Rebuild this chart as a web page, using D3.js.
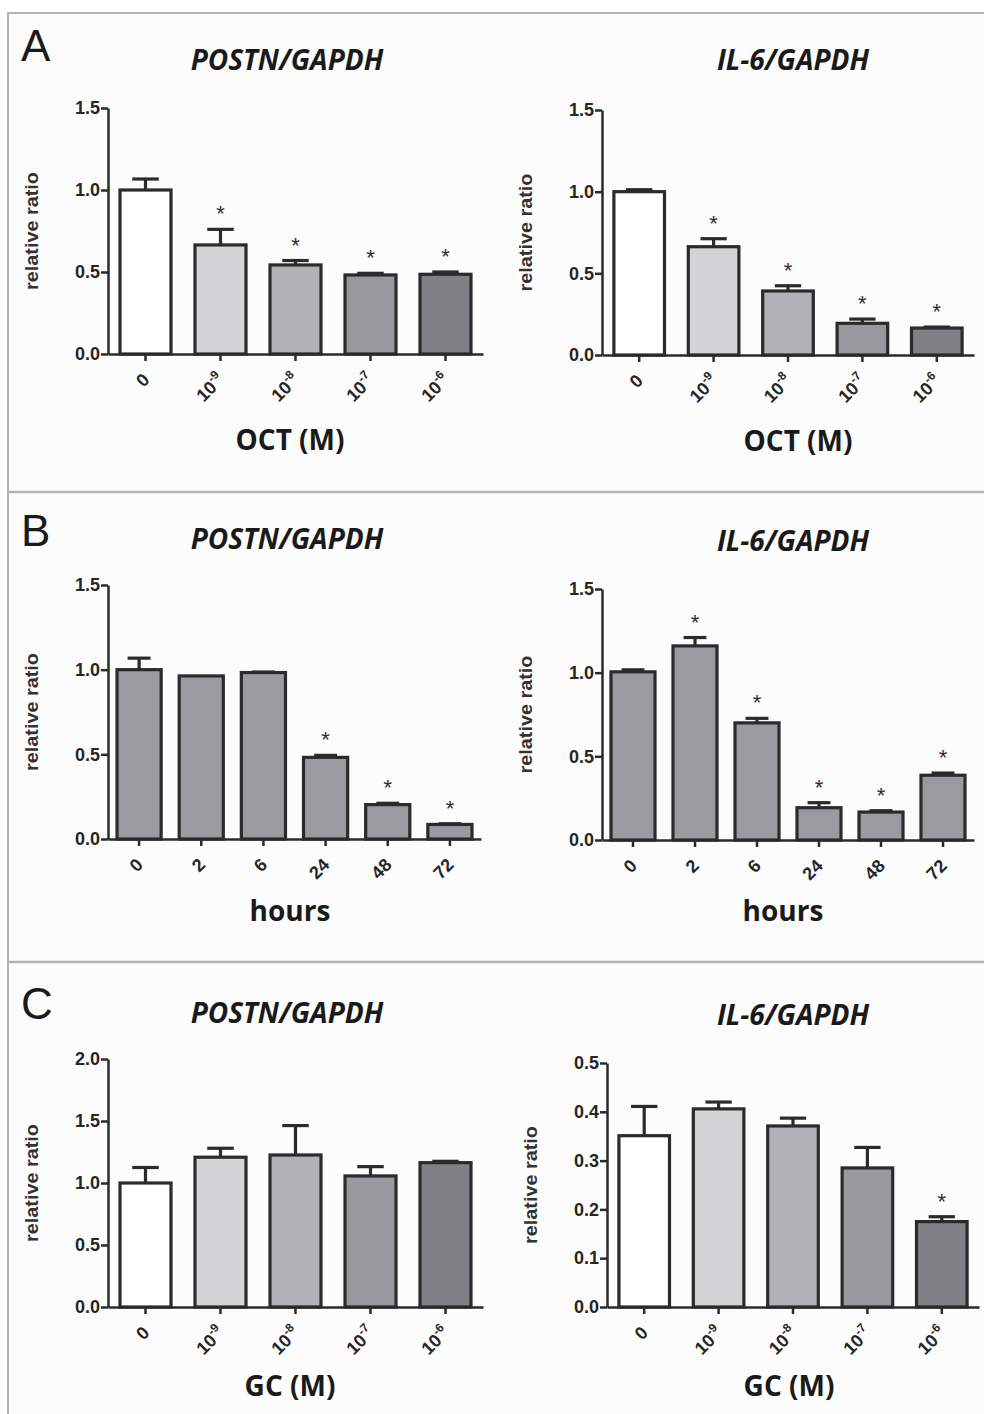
<!DOCTYPE html>
<html>
  <head>
    <meta charset="utf-8">
    <title>POSTN and IL-6 relative expression</title>
    <style>
      body {
        margin: 0;
        background: #fff;
      }

      svg {
        display: block;
      }

      .axis path,
      .axis line {
        fill: none;
        stroke: #2b2b2b;
        stroke-width: 2.5px;
      }

      .axis text,
      .xlab {
        font-family: "Liberation Sans", Arial, sans-serif;
        font-weight: bold;
        font-size: 18px;
        fill: #262626;
      }

      .bar,
      .err {
        stroke: #2b2b2b;
        stroke-width: 3.2px;
      }

      .star {
        font-family: "Liberation Sans", Arial, sans-serif;
        font-size: 22px;
        fill: #2e2e2e;
        text-anchor: middle;
      }

      .title {
        font-family: "Open Sans", sans-serif;
        font-weight: bold;
        font-style: italic;
        font-size: 28px;
        fill: #1a1a1a;
        text-anchor: middle;
      }

      .xtitle {
        font-family: "Open Sans", sans-serif;
        font-weight: bold;
        font-size: 28px;
        fill: #1a1a1a;
        text-anchor: middle;
      }

      .ytitle {
        font-family: "Liberation Sans", Arial, sans-serif;
        font-weight: bold;
        font-size: 18px;
        fill: #333;
        text-anchor: middle;
      }

      .letter {
        font-family: "Liberation Sans", Arial, sans-serif;
        font-size: 44px;
        fill: #1a1a1a;
      }
    </style>
  </head>

  <body>
    <div id="chart"></div>

    <script src="https://d3js.org/d3.v7.min.js"></script>
    <script>
      // Category labels ("^" marks a superscript exponent)
      var doseLabels = ["0", "10^-9", "10^-8", "10^-7", "10^-6"];
      var hourLabels = ["0", "2", "6", "24", "48", "72"];

      // y tick values
      var ticks15 = [0, 0.5, 1.0, 1.5];
      var ticks20 = [0, 0.5, 1.0, 1.5, 2.0];
      var ticks05 = [0, 0.1, 0.2, 0.3, 0.4, 0.5];

      // A: OCT dose
      var octPostn = [1.00, 0.665, 0.543, 0.482, 0.486];
      var octPostnErr = [0.067, 0.095, 0.027, 0.010, 0.014];
      var octPostnSig = [false, true, true, true, true];
      var octIl6 = [1.00, 0.663, 0.392, 0.194, 0.165];
      var octIl6Err = [0.012, 0.049, 0.032, 0.026, 0.006];
      var octIl6Sig = [false, true, true, true, true];

      // B: time course
      var hrsPostn = [1.00, 0.963, 0.983, 0.482, 0.203, 0.086];
      var hrsPostnErr = [0.068, 0, 0.003, 0.012, 0.008, 0.004];
      var hrsPostnSig = [false, false, false, true, true, true];
      var hrsIl6 = [1.005, 1.16, 0.70, 0.193, 0.167, 0.387];
      var hrsIl6Err = [0.012, 0.05, 0.027, 0.03, 0.008, 0.013];
      var hrsIl6Sig = [false, true, true, true, true, true];

      // C: GC dose
      var gcPostn = [1.00, 1.208, 1.226, 1.057, 1.164];
      var gcPostnErr = [0.125, 0.072, 0.237, 0.075, 0.011];
      var gcPostnSig = [false, false, false, false, false];
      var gcIl6 = [0.351, 0.406, 0.371, 0.285, 0.175];
      var gcIl6Err = [0.060, 0.014, 0.016, 0.042, 0.010];
      var gcIl6Sig = [false, false, false, false, true];

      // bar fills
      var doseFills = ["#ffffff", "#d3d4d6", "#b1b2b5", "#98999c", "#808184"];
      var hourFill = "#9a9b9e";

      var charts = [
        {title: "POSTN/GAPDH", xTitle: "OCT (M)", cats: doseLabels, vals: octPostn, errs: octPostnErr, sig: octPostnSig,
         yMax: 1.5, ticks: ticks15, left: 108, right: 483, top: 108, bottom: 354, titleX: 287, titleY: 70, xTitleX: 290, xTitleY: 450},
        {title: "IL-6/GAPDH", xTitle: "OCT (M)", cats: doseLabels, vals: octIl6, errs: octIl6Err, sig: octIl6Sig,
         yMax: 1.5, ticks: ticks15, left: 602, right: 974, top: 110, bottom: 355, titleX: 793, titleY: 70, xTitleX: 798, xTitleY: 451},
        {title: "POSTN/GAPDH", xTitle: "hours", cats: hourLabels, vals: hrsPostn, errs: hrsPostnErr, sig: hrsPostnSig,
         yMax: 1.5, ticks: ticks15, left: 108, right: 481, top: 585, bottom: 839, titleX: 287, titleY: 549, xTitleX: 290, xTitleY: 921},
        {title: "IL-6/GAPDH", xTitle: "hours", cats: hourLabels, vals: hrsIl6, errs: hrsIl6Err, sig: hrsIl6Sig,
         yMax: 1.5, ticks: ticks15, left: 602, right: 974, top: 589, bottom: 840, titleX: 793, titleY: 551, xTitleX: 783, xTitleY: 921},
        {title: "POSTN/GAPDH", xTitle: "GC (M)", cats: doseLabels, vals: gcPostn, errs: gcPostnErr, sig: gcPostnSig,
         yMax: 2.0, ticks: ticks20, left: 108, right: 483, top: 1059, bottom: 1307, titleX: 287, titleY: 1023, xTitleX: 290, xTitleY: 1396},
        {title: "IL-6/GAPDH", xTitle: "GC (M)", cats: doseLabels, vals: gcIl6, errs: gcIl6Err, sig: gcIl6Sig,
         yMax: 0.5, ticks: ticks05, left: 607, right: 979, top: 1063, bottom: 1307, titleX: 793, titleY: 1025, xTitleX: 789, xTitleY: 1396}
      ];

      var W = 984, H = 1414;

      var svg = d3.select("#chart").append("svg")
        .attr("width", W)
        .attr("height", H);

      // Panel frame and separators
      svg.append("rect")
        .attr("x", 8).attr("y", 13)
        .attr("width", W + 10).attr("height", H)
        .attr("fill", "#fcfcfc")
        .attr("stroke", "#b3b3b3")
        .attr("stroke-width", 2);

      [492, 962].forEach(function(y) {
        svg.append("line")
          .attr("x1", 8).attr("x2", W)
          .attr("y1", y).attr("y2", y)
          .attr("stroke", "#b3b3b3")
          .attr("stroke-width", 2.5);
      });

      [["A", 61], ["B", 546], ["C", 1019]].forEach(function(l) {
        svg.append("text")
          .attr("class", "letter")
          .attr("x", 21).attr("y", l[1])
          .text(l[0]);
      });

      charts.forEach(function(c) {
        var g = svg.append("g");
        var n = c.cats.length;
        var pad = n === 6 ? 0.29 : 0.32;

        var x = d3.scaleBand()
          .domain(c.cats)
          .range([c.left, c.right])
          .paddingInner(pad)
          .paddingOuter(pad / 2);

        var y = d3.scaleLinear()
          .domain([0, c.yMax])
          .range([c.bottom, c.top]);

        var rows = c.cats.map(function(k, i) {
          return {cat: k, v: c.vals[i], e: c.errs[i], sig: c.sig[i], i: i};
        });

        // error bars (drawn under bars so the stem starts at the bar top)
        var cap = x.bandwidth() * 0.52;
        rows.forEach(function(d) {
          if (d.e <= 0) return;
          var cx = x(d.cat) + x.bandwidth() / 2;
          g.append("line").attr("class", "err")
            .attr("x1", cx).attr("x2", cx)
            .attr("y1", y(d.v)).attr("y2", y(d.v + d.e));
          g.append("line").attr("class", "err")
            .attr("x1", cx - cap / 2).attr("x2", cx + cap / 2)
            .attr("y1", y(d.v + d.e)).attr("y2", y(d.v + d.e));
        });

        g.selectAll(".bar")
          .data(rows)
          .enter().append("rect")
          .attr("class", "bar")
          .attr("x", function(d) { return x(d.cat); })
          .attr("y", function(d) { return y(d.v); })
          .attr("width", x.bandwidth())
          .attr("height", function(d) { return y(0) - y(d.v); })
          .attr("fill", function(d) { return n === 6 ? hourFill : doseFills[d.i]; });

        g.selectAll(".star")
          .data(rows.filter(function(d) { return d.sig; }))
          .enter().append("text")
          .attr("class", "star")
          .attr("x", function(d) { return x(d.cat) + x.bandwidth() / 2; })
          .attr("y", function(d) { return y(d.v + d.e) - 8; })
          .text("*");

        // axes
        g.append("g")
          .attr("class", "axis")
          .attr("transform", "translate(" + c.left + ",0)")
          .call(d3.axisLeft(y)
            .tickValues(c.ticks)
            .tickSize(7)
            .tickSizeOuter(0)
            .tickPadding(1)
            .tickFormat(d3.format(".1f")));

        var xa = g.append("g")
          .attr("class", "axis")
          .attr("transform", "translate(0," + c.bottom + ")")
          .call(d3.axisBottom(x).tickSize(7).tickSizeOuter(0).tickFormat(""));

        xa.selectAll(".tick").each(function(d) {
          var parts = d.split("^");
          var t = d3.select(this).append("text")
            .attr("class", "xlab")
            .attr("fill", "#262626")
            .attr("text-anchor", "end")
            .attr("transform", "translate(5,27) rotate(-45)");
          t.append("tspan").text(parts[0]);
          if (parts.length > 1) {
            t.append("tspan")
              .attr("dy", -8)
              .attr("font-size", 12)
              .text(parts[1]);
          }
        });

        // titles
        g.append("text")
          .attr("class", "title")
          .attr("x", c.titleX).attr("y", c.titleY)
          .text(c.title);

        g.append("text")
          .attr("class", "xtitle")
          .attr("x", c.xTitleX).attr("y", c.xTitleY)
          .text(c.xTitle);

        g.append("text")
          .attr("class", "ytitle")
          .attr("transform", "translate(" + (c.left - 76) + "," + ((c.top + c.bottom) / 2) + ") rotate(-90)")
          .attr("dy", "0.35em")
          .attr("textLength", 118)
          .attr("lengthAdjust", "spacingAndGlyphs")
          .text("relative ratio");
      });
    </script>
  </body>
</html>
